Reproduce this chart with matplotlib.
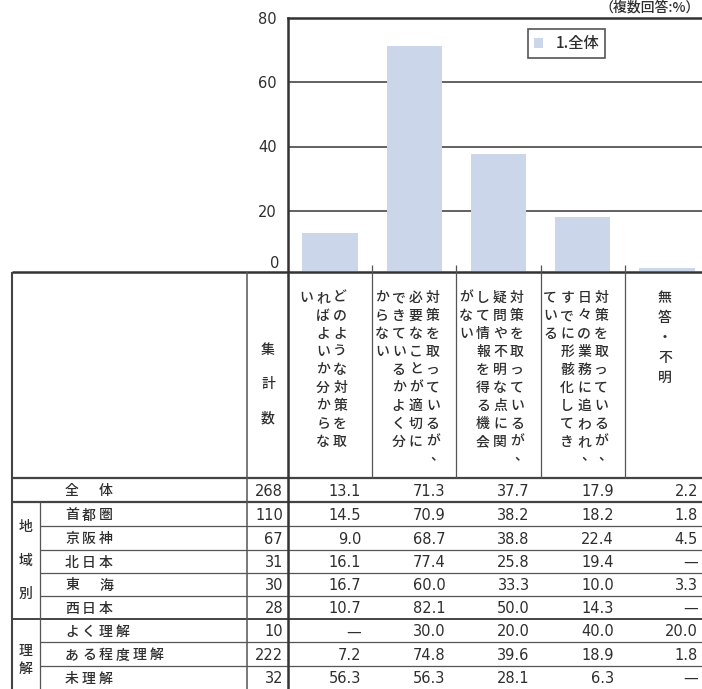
import matplotlib
matplotlib.use("Agg")
import matplotlib.pyplot as plt

plt.rcParams['font.family'] = ['Noto Sans CJK JP', 'DejaVu Sans']

# ---- data -------------------------------------------------------------
answers = [
    "どのような対策を取ればよいか分からない",
    "対策を取っているが、必要なことが適切にできているかよく分からない",
    "対策を取っているが、疑問や不明な点に関して情報を得る機会がない",
    "対策を取っているが、日々の業務に追われ、すでに形骸化してきている",
    "無答・不明",
]
series_name = "1.全体"
overall = [13.1, 71.3, 37.7, 17.9, 2.2]

row_labels = ["全　体", "首都圏", "京阪神", "北日本", "東　海", "西日本",
              "よく理解", "ある程度理解", "未理解"]
group_labels = ["地域別", "理解"]
counts = [268, 110, 67, 31, 30, 28, 10, 222, 32]
table_values = [
    [13.1, 71.3, 37.7, 17.9, 2.2],
    [14.5, 70.9, 38.2, 18.2, 1.8],
    [9.0, 68.7, 38.8, 22.4, 4.5],
    [16.1, 77.4, 25.8, 19.4, None],
    [16.7, 60.0, 33.3, 10.0, 3.3],
    [10.7, 82.1, 50.0, 14.3, None],
    [None, 30.0, 20.0, 40.0, 20.0],
    [7.2, 74.8, 39.6, 18.9, 1.8],
    [56.3, 56.3, 28.1, 6.3, None],
]
y_ticks = [20, 40, 60, 80]
note = "（複数回答:%）"

# ---- layout (pixels) --------------------------------------------------
W, H = 702, 689
TXT = '#2e2e2e'
LINE = '#555555'
BAR = '#cbd6ea'
FS_JP = 10
FS_NUM = 10.5
JP = dict(fontsize=FS_JP, color=TXT, fontweight='medium')
NUM = dict(fontsize=FS_NUM, color=TXT, family='DejaVu Sans')

plot_left, plot_right = 288, 709
plot_top, plot_bottom = 18, 271
zero_px = 275                       # where the value 0 sits
px_per_unit = (zero_px - plot_top) / 80.0

fig = plt.figure(figsize=(W / 100, H / 100), dpi=100)
fig.patch.set_facecolor('white')

ax = fig.add_axes([plot_left / W, 1 - plot_bottom / H,
                   (plot_right - plot_left) / W, (plot_bottom - plot_top) / H])
ax.set_xlim(-0.5, len(overall) - 0.5)
ax.set_ylim((zero_px - plot_bottom) / px_per_unit, 80)
for yv in y_ticks[:-1]:
    ax.axhline(yv, color=LINE, lw=1.3, zorder=1)
bars = ax.bar(range(len(overall)), overall, width=0.66, color=BAR,
              zorder=2, label=series_name)
ax.set_yticks(y_ticks)
ax.set_yticklabels([str(v) for v in y_ticks], **NUM)
ax.tick_params(axis='y', length=0, pad=8)
ax.set_xticks([])
for s in ['bottom', 'right']:
    ax.spines[s].set_visible(False)
for s in ['left', 'top']:
    ax.spines[s].set_color('#333333')
    ax.spines[s].set_linewidth(1.8)

leg = ax.legend(handles=[bars], loc='upper left',
                bbox_to_anchor=(528 / W, 1 - 29 / H),
                bbox_transform=fig.transFigure, borderaxespad=0,
                fancybox=False, framealpha=1, edgecolor='#555555',
                prop={'size': 11, 'weight': 'medium'},
                handlelength=0.6, handleheight=0.6,
                handletextpad=0.8, borderpad=0.4)
leg.get_frame().set_linewidth(1.2)
for t in leg.get_texts():
    t.set_color(TXT)

# ---- overlay for the table (pixel coordinates) ------------------------
ov = fig.add_axes([0, 0, 1, 1], zorder=5)
ov.set_xlim(0, W)
ov.set_ylim(H, 0)
ov.axis('off')
ov.patch.set_alpha(0)

ov.text(700, 7, note, ha='right', va='center', **JP)

col_w = (plot_right - plot_left) / len(answers)
col_edges = [plot_left + col_w * i for i in range(len(answers) + 1)]

tbl_left, sub_x, count_x = 12, 40, 247
tbl_top, head_bot = 272, 478
row_edges = [478, 502, 526, 549.5, 572.5, 595.5, 619, 642, 665.5, 689]


def hline(y, x0, x1, lw, c=LINE):
    ov.plot([x0, x1], [y, y], color=c, lw=lw, solid_capstyle='butt')


def vline(x, y0, y1, lw, c=LINE):
    ov.plot([x, x], [y0, y1], color=c, lw=lw, solid_capstyle='butt')


# horizontal rules
hline(tbl_top, tbl_left, W, 1.8, '#333333')
hline(head_bot, tbl_left, W, 1.6, '#444444')
hline(row_edges[1], tbl_left, W, 1.6, '#444444')
for k in range(2, len(row_edges) - 1):
    if k == 6:
        hline(row_edges[k], tbl_left, W, 1.4, '#444444')
    else:
        hline(row_edges[k], sub_x, W, 0.9)

# vertical rules
vline(tbl_left, tbl_top, H, 1.5, '#444444')
vline(sub_x, row_edges[1], H, 0.9)
vline(count_x, tbl_top, H, 1.1)
vline(plot_left, tbl_top, H, 1.8, '#333333')
for x in col_edges[1:-1]:
    vline(x, 265, head_bot, 0.9)

# header: count column
for j, ch in enumerate("集計数"):
    ov.text(268, 350 + 34 * j, ch, ha='center', va='center', **JP)


def vertical_columns(text, per_col=9):
    cols, cur = [], ""
    for ch in text:
        if ch == "、" and len(cur) == per_col:
            cur += ch
            continue
        if len(cur) >= per_col:
            cols.append(cur)
            cur = ""
        cur += ch
    if cur:
        cols.append(cur)
    return cols


step_x, step_y, y_first = 17, 18, 298
for i, label in enumerate(answers):
    cx = (col_edges[i] + col_edges[i + 1]) / 2
    cols = vertical_columns(label)
    if len(cols) == 1:
        for j, ch in enumerate(cols[0]):
            ov.text(cx - 2, y_first + 20 * j, ch, ha='center', va='center', **JP)
        continue
    n = len(cols)
    center = cx - 7
    for c, s in enumerate(cols):
        x = center + (n - 1) / 2 * step_x - c * step_x
        for j, ch in enumerate(s):
            if ch == "、":
                ov.text(x + 4, y_first + step_y * j - 4, ch, ha='center',
                        va='center', **JP)
            else:
                ov.text(x, y_first + step_y * j, ch, ha='center', va='center', **JP)

# body rows
label_x0, label_pitch = 72, 17
for r, lab in enumerate(row_labels):
    yc = (row_edges[r] + row_edges[r + 1]) / 2 + 1.5
    for j, ch in enumerate(lab):
        if ch.strip("　"):
            ov.text(label_x0 + label_pitch * j, yc, ch, ha='center',
                    va='center', **JP)
    ov.text(283, yc, str(counts[r]), ha='right', va='center', **NUM)
    for i, v in enumerate(table_values[r]):
        xr = col_edges[i + 1] - 11
        s = "—" if v is None else f"{v:.1f}"
        ov.text(xr, yc, s, ha='right', va='center', **NUM)

# group labels
for j, ch in enumerate(group_labels[0]):
    ov.text(26, 527 + 33.5 * j, ch, ha='center', va='center', **JP)
for j, ch in enumerate(group_labels[1]):
    ov.text(26, 651 + 18 * j, ch, ha='center', va='center', **JP)

# zero label for the value axis
ov.text(279, 263, "0", ha='right', va='center', **NUM)

fig.savefig("out.png", dpi=100, facecolor='white')
